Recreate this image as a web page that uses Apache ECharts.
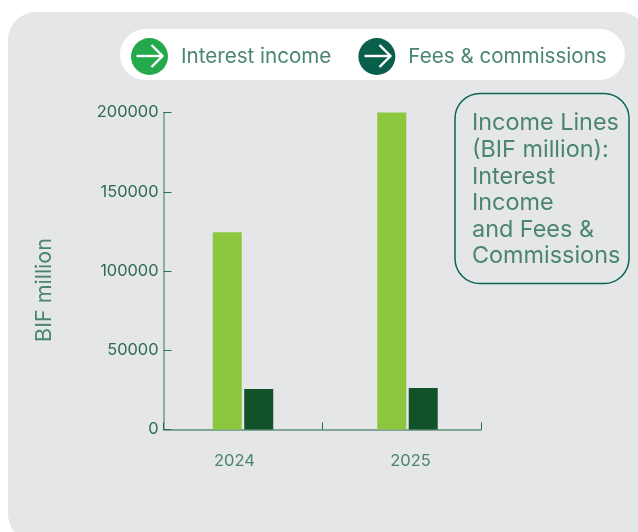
<!DOCTYPE html>
<html>
<head>
<meta charset="utf-8">
<title>Income Lines</title>
<style>html,body{margin:0;padding:0;background:#fff}#chart{width:638px;height:532px}</style>
<script src="https://cdn.jsdelivr.net/npm/echarts@6/dist/echarts.min.js"></script>
</head>
<body>
<div id="chart"></div>
<script>
const years = ['2024', '2025'];
const interestIncome = [124500, 200000];
const feesCommissions = [25500, 26200];
const seriesNames = ['Interest income', 'Fees & commissions'];
const yTicks = { min: 0, max: 200000, interval: 50000 };
const calloutLines = ['Income Lines', '(BIF million):', 'Interest', 'Income', 'and Fees &', 'Commissions'];

const FONT = 'Inter';
const TEXT = '#4a8570';

// White right-pointing arrow laid over a legend disc
function arrow(cx, cy) {
  const style = { stroke: '#fff', lineWidth: 2.4, fill: null };
  return {
    type: 'group', x: cx, y: cy, z: 20,
    children: [
      { type: 'line', shape: { x1: -13, y1: 0, x2: 12, y2: 0 }, style, z: 20 },
      { type: 'polyline', shape: { points: [[2, -11], [13, 0], [2, 11]] }, style, z: 20 }
    ]
  };
}

const chart = echarts.init(document.getElementById('chart'), null, { renderer: 'canvas' });
chart.setOption({
  animation: false,
  backgroundColor: '#ffffff',
  textStyle: { fontFamily: FONT },
  // grid 0 carries the axis frame, grid 1 the bars, grid 2 the year labels
  grid: [
    { left: 163.5, top: 112.5, width: 317.5, height: 317 },
    { left: 160.75, top: 112.5, width: 329, height: 317 },
    { left: 146.5, top: 112.5, width: 352, height: 317 }
  ],
  xAxis: [
    {
      gridIndex: 0, type: 'category', data: years,
      axisLine: { lineStyle: { color: '#5f9079', width: 1.5 } },
      axisTick: { show: true, inside: true, length: 7, alignWithLabel: false, lineStyle: { color: '#1f6a4c', width: 1 } },
      axisLabel: { show: false }
    },
    {
      gridIndex: 1, type: 'category', data: years,
      axisLine: { show: false }, axisTick: { show: false }, axisLabel: { show: false }
    },
    {
      gridIndex: 2, type: 'category', data: years,
      axisLine: { show: false }, axisTick: { show: false },
      axisLabel: { color: TEXT, fontSize: 16.5, fontFamily: FONT, margin: 23 }
    }
  ],
  yAxis: [
    {
      gridIndex: 0, type: 'value', min: yTicks.min, max: yTicks.max, interval: yTicks.interval,
      name: 'BIF million', nameLocation: 'middle', nameGap: 108,
      nameTextStyle: { color: TEXT, fontSize: 21.5, fontFamily: FONT, padding: [0, 38, 0, 0] },
      splitLine: { show: false },
      axisLine: { show: true, lineStyle: { color: '#6f9a85', width: 1.5 } },
      axisTick: { show: true, inside: true, length: 8, lineStyle: { color: '#2f7257', width: 1 } },
      axisLabel: {
        color: '#2f6b4f', fontSize: 16.4, fontFamily: FONT, margin: 5,
        formatter: (v) => String(v)
      }
    },
    { gridIndex: 1, type: 'value', min: yTicks.min, max: yTicks.max, interval: yTicks.interval, show: false, splitLine: { show: false } },
    { gridIndex: 2, type: 'value', min: yTicks.min, max: yTicks.max, interval: yTicks.interval, show: false, splitLine: { show: false } }
  ],
  legend: {
    left: 126, top: 33, itemWidth: 37, itemHeight: 37, itemGap: 27, icon: 'circle',
    selectedMode: false,
    textStyle: { color: TEXT, fontSize: 20.6, fontFamily: FONT, padding: [2, 0, 0, 8] },
    data: [
      { name: seriesNames[0], itemStyle: { color: '#25a94d' } },
      { name: seriesNames[1], itemStyle: { color: '#0a5f4a' } }
    ]
  },
  series: [
    {
      name: seriesNames[0], type: 'bar', xAxisIndex: 1, yAxisIndex: 1, data: interestIncome,
      barWidth: 29, barGap: '8.5%', itemStyle: { color: '#8dc63f' }
    },
    {
      name: seriesNames[1], type: 'bar', xAxisIndex: 1, yAxisIndex: 1, data: feesCommissions,
      barWidth: 29, barGap: '8.5%', itemStyle: { color: '#115229' }
    }
  ],
  graphic: [
    { type: 'rect', z: -10, shape: { x: 8, y: 12, width: 640, height: 530, r: 28 }, style: { fill: '#e5e6e8' } },
    { type: 'rect', z: -9, shape: { x: 120, y: 29, width: 505, height: 51, r: 25.5 }, style: { fill: '#ffffff' } },
    arrow(149.5, 56),
    arrow(377.5, 56),
    { type: 'rect', z: -8, shape: { x: 455, y: 93.5, width: 174, height: 190, r: 25 }, style: { fill: 'transparent', stroke: '#0c6650', lineWidth: 1.5 } },
    {
      type: 'text', z: 10, x: 472, y: 110,
      style: { text: calloutLines.join('\n'), fill: TEXT, fontSize: 23.4, lineHeight: 26.6, fontFamily: FONT }
    }
  ]
});
</script>
</body>
</html>
